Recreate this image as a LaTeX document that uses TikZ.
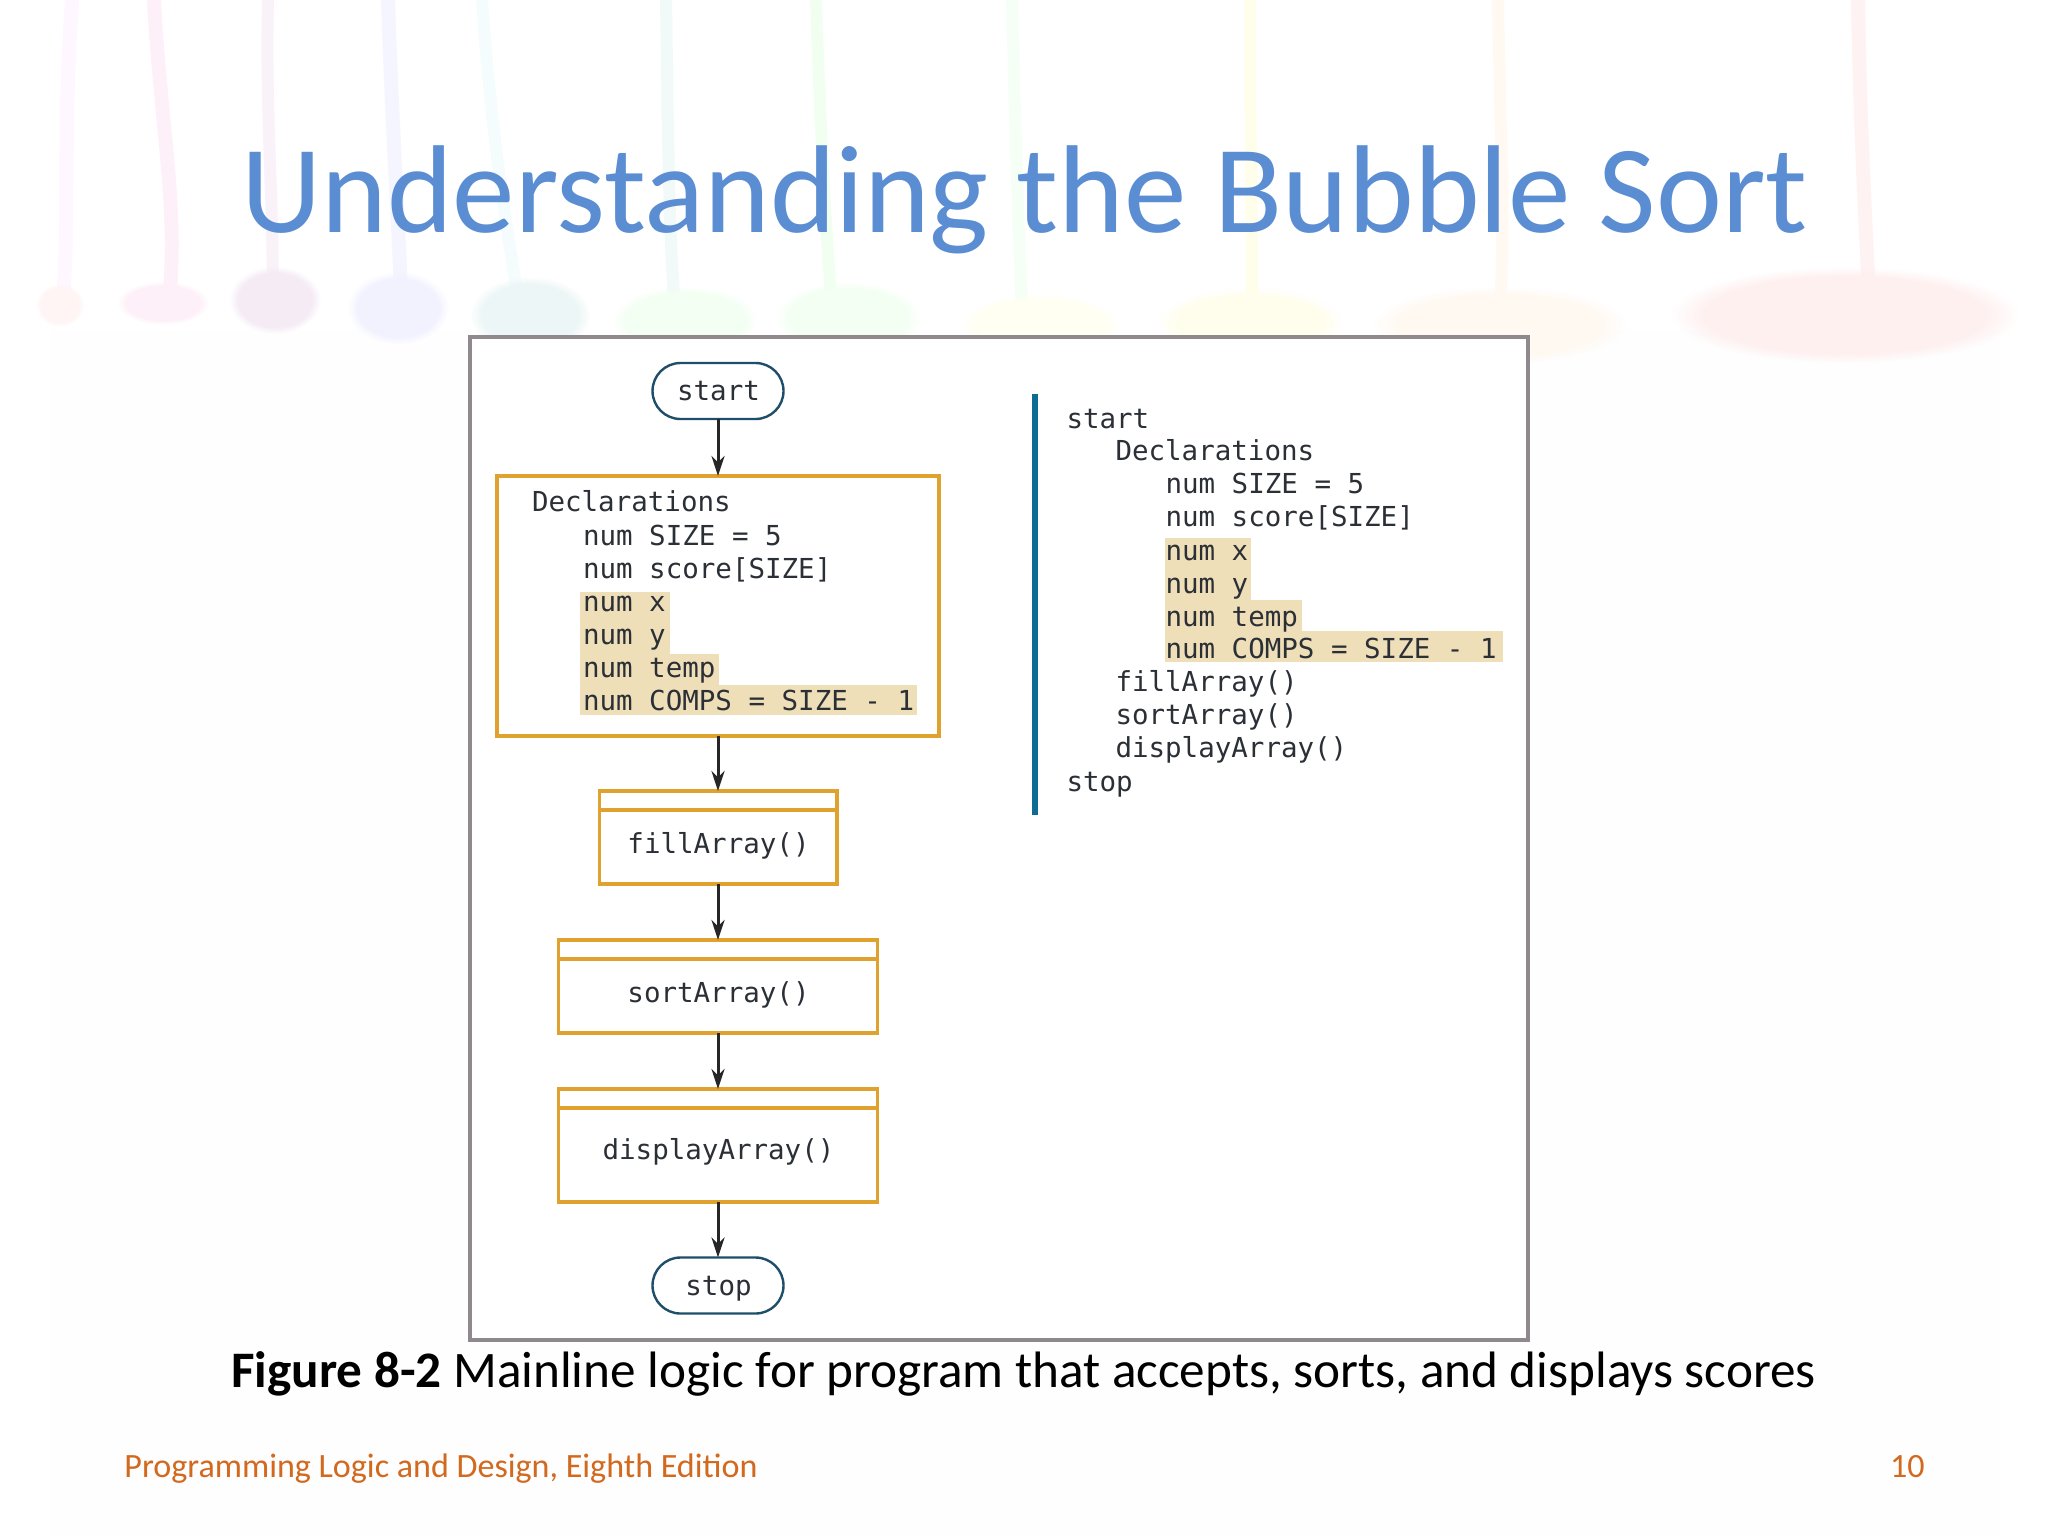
\documentclass[tikz,border=0pt]{standalone}
\usepackage{fontspec}
\usetikzlibrary{shapes.misc,arrows.meta,calc,fadings}
\setmainfont{Carlito}
\newfontfamily\codefont{DejaVu Sans Mono}
\definecolor{titleblue}{HTML}{5B8DD3}
\definecolor{footorange}{HTML}{D2691E}
\definecolor{flowgold}{HTML}{E0A22E}
\definecolor{termblue}{HTML}{1F4E6B}
\definecolor{framegray}{HTML}{8F888C}
\definecolor{hilite}{HTML}{EFDFB8}
\definecolor{codeink}{HTML}{2B2F36}
\definecolor{barblue}{HTML}{0F6A94}
\tikzset{
  x=0.5pt,y=-0.5pt,
  code/.style={font=\codefont\fontsize{13.75}{16}\selectfont,text=codeink,anchor=base west,inner sep=0pt,outer sep=0pt},
  codec/.style={font=\codefont\fontsize{13.75}{16}\selectfont,text=codeink,anchor=base,inner sep=0pt,outer sep=0pt},
  terminal/.style={draw=termblue,line width=1.2pt,fill=white,rounded rectangle,minimum width=65.5pt,minimum height=28pt,inner sep=0pt,outer sep=0pt},
  flowbox/.style={draw=flowgold,line width=1.75pt,fill=white,rectangle,inner sep=0pt,outer sep=0pt},
  flowarrow/.style={draw=black!85,line width=1.5pt,-{Stealth[length=10pt,width=6.5pt]}},
  hl/.style={fill=hilite,draw=none},
  streak/.style={line width=#1,line cap=butt},
}
\newcommand{\blobat}[5]{\fill[#5,path fading=circle with fuzzy edge 20 percent] (#1,#2) ellipse [x radius=#3*0.6pt,y radius=#4*0.6pt];}
\begin{document}
\begin{tikzpicture}
\useasboundingbox (0,0) rectangle (2048,1536);
\fill[white] (0,0) rectangle (2048,1536);
% faint painted background
\fill[black!0.5] (50,330) rectangle (2000,1536);
\draw[streak=7pt,color=red!5!magenta!3!white] (72,0) .. controls (62,150) and (70,240) .. (62,305);
\draw[streak=7pt,color=magenta!6!white] (154,0) .. controls (160,120) and (180,220) .. (168,305);
\draw[streak=6pt,color=violet!5!white] (268,0) .. controls (265,120) and (275,220) .. (272,300);
\draw[streak=7pt,color=blue!4!white] (388,0) .. controls (392,120) and (398,220) .. (402,310);
\draw[streak=6pt,color=cyan!4!white] (482,0) .. controls (490,120) and (505,220) .. (520,310);
\draw[streak=6pt,color=teal!5!white] (666,0) .. controls (668,120) and (668,220) .. (675,310);
\draw[streak=6pt,color=green!6!white] (816,0) .. controls (820,120) and (825,220) .. (832,310);
\draw[streak=6pt,color=green!4!white] (1012,0) .. controls (1015,120) and (1018,220) .. (1022,310);
\draw[streak=6pt,color=yellow!8!white] (1250,0) .. controls (1250,120) and (1252,220) .. (1252,310);
\draw[streak=6pt,color=orange!5!white] (1498,0) .. controls (1500,120) and (1505,220) .. (1500,310);
\draw[streak=7pt,color=red!5!white] (1858,0) .. controls (1860,120) and (1865,220) .. (1870,310);
\blobat{60}{305}{20}{18}{red!4!white}
\blobat{163}{303}{38}{18}{magenta!6!white}
\blobat{275}{300}{38}{28}{violet!8!white}
\blobat{398}{308}{42}{30}{blue!5!white}
\blobat{530}{315}{50}{32}{teal!7!white}
\blobat{685}{320}{60}{28}{green!5!white}
\blobat{848}{318}{60}{30}{green!5!white}
\blobat{1040}{325}{66}{26}{green!3!yellow!5!white}
\blobat{1250}{322}{76}{28}{yellow!7!white}
\blobat{1500}{325}{105}{32}{orange!5!white}
\blobat{1845}{315}{145}{40}{red!6!white}
% title
\node[font=\fontsize{62.5}{70}\selectfont,text=titleblue,anchor=base west,inner sep=0pt] (title) at (241,232) {Understanding the Bubble Sort};
% frame
\node[draw=framegray,line width=1.6pt,fill=white,rectangle,minimum width=529pt,minimum height=501.5pt,inner sep=0pt,outer sep=0pt] (frame) at (999,838.5) {};
% flowchart shapes
\node[terminal] (start) at (718,391) {};
\node[flowbox,minimum width=221pt,minimum height=130pt] (decl) at (718,606) {};
\node[flowbox,minimum width=118.75pt,minimum height=46.5pt] (fill) at (718,837.5) {};
\node[flowbox,minimum width=159.5pt,minimum height=46.5pt] (sort) at (718,986.5) {};
\node[flowbox,minimum width=159.5pt,minimum height=56.5pt] (disp) at (718,1145.5) {};
\node[terminal] (stop) at (718,1285.5) {};
\draw[flowgold,line width=1.75pt] ($(fill.north west)+(0,19)$) -- ($(fill.north east)+(0,19)$);
\draw[flowgold,line width=1.75pt] ($(sort.north west)+(0,19)$) -- ($(sort.north east)+(0,19)$);
\draw[flowgold,line width=1.75pt] ($(disp.north west)+(0,19)$) -- ($(disp.north east)+(0,19)$);
\draw[flowarrow] (start) -- (decl);
\draw[flowarrow] (decl) -- (fill);
\draw[flowarrow] (fill) -- (sort);
\draw[flowarrow] (sort) -- (disp);
\draw[flowarrow] (disp) -- (stop);
% flowchart labels
\node[codec] (tstart) at (718.5,400.5) {start};
\node[codec] (tfill) at (718.5,853.5) {fillArray()};
\node[codec] (tsort) at (718.5,1002.5) {sortArray()};
\node[codec] (tdisp) at (718.5,1159.5) {displayArray()};
\node[codec] (tstop) at (718.5,1295) {stop};
% declarations highlight
\fill[hl] (580,592) rectangle (670,654);
\fill[hl] (580,654) rectangle (718.6,685);
\fill[hl] (580,685) rectangle (917,715);
\node[code] (d0) at (532,511) {Declarations};
\node[code] (d1) at (583,545) {num SIZE = 5};
\node[code] (d2) at (583,578) {num score[SIZE]};
\node[code] (d3) at (583,611) {num x};
\node[code] (d4) at (583,644) {num y};
\node[code] (d5) at (583,677) {num temp};
\node[code] (d6) at (583,710) {num COMPS = SIZE - 1};
% pseudocode
\fill[barblue] (1031.5,394) rectangle (1037.5,815);
\fill[hl] (1165,538) rectangle (1251,600);
\fill[hl] (1165,600) rectangle (1302,631);
\fill[hl] (1165,631) rectangle (1502.5,662);
\node[code] (p0) at (1066.5,428) {start};
\node[code] (p1) at (1115.5,460) {Declarations};
\node[code] (p2) at (1165.5,493) {num SIZE = 5};
\node[code] (p3) at (1165.5,526) {num score[SIZE]};
\node[code] (p4) at (1165.5,560) {num x};
\node[code] (p5) at (1165.5,593) {num y};
\node[code] (p6) at (1165.5,626) {num temp};
\node[code] (p7) at (1165.5,658) {num COMPS = SIZE - 1};
\node[code] (p8) at (1115.5,691) {fillArray()};
\node[code] (p9) at (1115.5,724) {sortArray()};
\node[code] (p10) at (1115.5,757) {displayArray()};
\node[code] (p11) at (1066.5,791) {stop};
% caption and footer
\node[font=\fontsize{25.6}{30}\selectfont,text=black,anchor=base west,inner sep=0pt] (caption) at (231,1387) {\textbf{Figure 8-2} Mainline logic for program that accepts, sorts, and displays scores};
\node[font=\fontsize{17.03}{20}\selectfont,text=footorange,anchor=base west,inner sep=0pt] (foot) at (124,1477) {Programming Logic and Design, Eighth Edition};
\node[font=\fontsize{17.03}{20}\selectfont,text=footorange,anchor=base east,inner sep=0pt] (pagenum) at (1925,1477) {10};
\end{tikzpicture}
\end{document}
